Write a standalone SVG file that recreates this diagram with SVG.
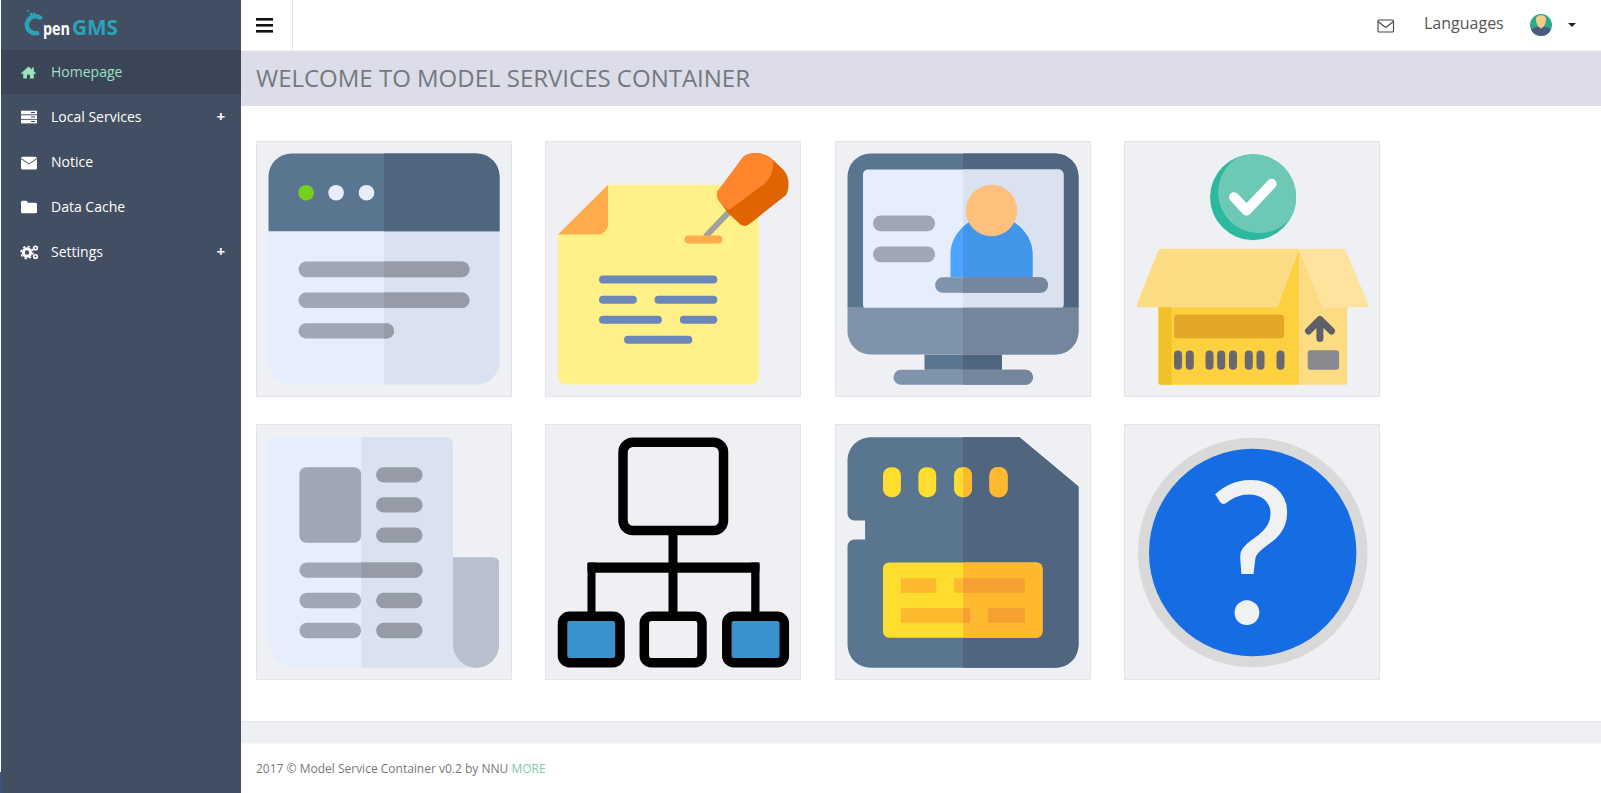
<svg xmlns="http://www.w3.org/2000/svg" xmlns:xlink="http://www.w3.org/1999/xlink" width="1601" height="793" viewBox="0 0 1601 793">
<style>
text{font-family:"Open Sans","Noto Sans","Liberation Sans",sans-serif}
.menu{font-size:14px;fill:#fff}
.active{fill:#9ce0bf}
.plus{font-size:15px;font-weight:700;fill:#fff}
.tile{fill:#eef0f4;stroke:#e2e4e9;stroke-width:1}
.slateL{fill:#5a7590}.slateR{fill:#50667f}
.paleL{fill:#e6eefc}.paleR{fill:#dae2f0}
.barL{fill:#a0a6b3}.barR{fill:#979ba7}
.monL{fill:#7f93ab}.monR{fill:#74859c}
.yelL{fill:#ffdd2e}.yelR{fill:#ffb92e}
.ambL{fill:#ffb92e}.ambR{fill:#f5a030}
.note{fill:#6a87b8}
.blk{fill:#000}
</style>
<defs>
<clipPath id="r"><rect x="127.6" y="0" width="128" height="255"/></clipPath>
<clipPath id="circ4"><circle cx="128.6" cy="55.7" r="43"/></clipPath>
<g id="i1head"><path d="M12 89.7V35a23 23 0 0 1 23-23H220a23 23 0 0 1 23 23V89.7Z"/></g>
<g id="i1body"><path d="M12 89.7H243V220a23 23 0 0 1-23 23H35a23 23 0 0 1-23-23Z"/></g>
<g id="i1bars"><rect x="42" y="120" width="171" height="15.7" rx="7.8"/><rect x="42" y="151" width="171" height="15.5" rx="7.7"/><rect x="42" y="181.7" width="95.500" height="15.400" rx="7.700"/></g>
<g id="i3frame"><path d="M12 166.300V35a23 23 0 0 1 23-23H220a23 23 0 0 1 23 23V166.300Z"/><rect x="89" y="213" width="77.400" height="15.300"/></g>
<g id="i3screen"><rect x="27.500" y="28" width="200.500" height="140" rx="5"/></g>
<g id="i3mon"><path d="M12 166.300H243V190a23 23 0 0 1-23 23H35a23 23 0 0 1-23-23Z"/><rect x="99.600" y="135.700" width="112.900" height="15.600" rx="7.800"/><rect x="58" y="228.300" width="139.500" height="15" rx="7.500"/></g>
<g id="i3body"><path d="M115 135.700V112C115 97 126 84 137 79H175C186 84 197 97 197 112V135.700Z"/></g>
<g id="i5page"><path d="M12 12.700H190a6.400 6.400 0 0 1 6.400 6.400V200c0 24 12 43.300 23 43.300H40a28 28 0 0 1-28-28Z"/></g>
<g id="i5long"><rect x="42.900" y="138" width="123.100" height="15.300" rx="7.600"/></g>
<g id="i7card"><path d="M35 12.700H184L243 62V220a23 23 0 0 1-23 23.300H35a23 23 0 0 1-23-23.300V122a7 7 0 0 1 7-7H29.600V96H19a7 7 0 0 1-7-7V35a23 23 0 0 1 23-22.300Z"/></g>
<g id="i7yel"><rect x="47.500" y="42.700" width="17.900" height="30" rx="8"/><rect x="82.900" y="42.700" width="17.800" height="30" rx="8"/><rect x="118.600" y="42.700" width="17.800" height="30" rx="8"/><rect x="154" y="42.700" width="18" height="30" rx="8"/><rect x="47.500" y="138" width="159.500" height="75.300" rx="6"/></g>
<g id="i7amb"><rect x="65.400" y="153.700" width="35.300" height="14.600"/><rect x="118.600" y="153.700" width="70.700" height="14.600"/><rect x="65.400" y="183.700" width="69.200" height="14.600"/><rect x="152.500" y="183.700" width="36.800" height="14.600"/></g>
</defs>

<rect width="1601" height="793" fill="#fff"/>
<g id="connectors"/>

<g id="sidebar">
<rect x="0" y="772" width="1" height="21" fill="#2f5a8f"/>
<rect x="1" y="0" width="240" height="793" fill="#424f62"/>
<rect x="1" y="50" width="240" height="44" fill="#3a4558"/>
</g>

<g id="logo">
<path d="M41.500 19A8.500 8.500 0 1 0 39 32.500" fill="none" stroke="#2aa3b8" stroke-width="4.500"/>
<g fill="#2aa3b8"><circle cx="28" cy="11" r="1"/><circle cx="31" cy="14" r="1.300"/><circle cx="34" cy="14" r="1.500"/><circle cx="32" cy="17" r="1"/></g>
<text x="43" y="35" font-size="17" font-weight="700" fill="#fff" textLength="27" lengthAdjust="spacingAndGlyphs">pen</text>
<text x="72" y="35" font-size="21" font-weight="700" fill="#2aa3b8" textLength="46" lengthAdjust="spacingAndGlyphs">GMS</text>
</g>

<g id="nav-homepage">
<path d="M28.500 66.500 21 73.200l1 1 1.200-1V78.500h3.800v-3.800h3v3.800h3.800v-5.300l1.200 1 1-1-2.200-2V67.500h-2v1.900Z" class="active"/>
<text x="51" y="77" class="menu active">Homepage</text>
</g>
<g id="nav-local-services">
<g fill="#fff"><rect x="21" y="110.700" width="16" height="3.600"/><rect x="21" y="115.300" width="16" height="3.600"/><rect x="21" y="119.800" width="16" height="3.600"/></g>
<g fill="#424f62"><rect x="31" y="112" width="4" height="1"/><rect x="31" y="116.500" width="4" height="1"/><rect x="31" y="121" width="4" height="1"/></g>
<text x="51" y="122" class="menu">Local Services</text>
<text x="216.500" y="122" class="plus">+</text>
</g>
<g id="nav-notice">
<rect x="21" y="156.700" width="16" height="12.800" rx="1.500" fill="#fff"/>
<path d="M21 158.500 29 164 37 158.500" fill="none" stroke="#424f62" stroke-width="1"/>
<text x="51" y="167" class="menu">Notice</text>
</g>
<g id="nav-data-cache">
<path d="M21 202.200a1.500 1.500 0 0 1 1.500-1.500h4l1.500 2h7.500a1.500 1.500 0 0 1 1.500 1.500v7.600a1.500 1.500 0 0 1-1.500 1.500h-13a1.500 1.500 0 0 1-1.500-1.500Z" fill="#fff"/>
<text x="51" y="212" class="menu">Data Cache</text>
</g>
<g id="nav-settings">
<g fill="none" stroke="#fff"><circle cx="27" cy="252.500" r="3.700" stroke-width="3"/><circle cx="27" cy="252.500" r="6" stroke-width="1.500" stroke-dasharray="2.300 2.400"/><circle cx="35.500" cy="248" r="1.800" stroke-width="1.600"/><circle cx="35.500" cy="256.500" r="1.800" stroke-width="1.600"/></g>
<text x="51" y="257" class="menu">Settings</text>
<text x="216.500" y="257" class="plus">+</text>
</g>

<g id="topbar">
<rect x="241" y="50.500" width="1360" height="1" fill="#eee"/>
<rect x="292" y="0" width="1" height="50" fill="#e7e7e7"/>
<g fill="#111"><rect x="256" y="18" width="17" height="2.600"/><rect x="256" y="24" width="17" height="2.600"/><rect x="256" y="30" width="17" height="2.600"/></g>
<g fill="none" stroke="#444" stroke-width="1.100"><rect x="1378" y="20" width="15.500" height="12" rx="1"/><path d="M1378 21.500 1385.700 27.500 1393.500 21.500"/></g>
<text x="1424" y="29" font-size="16" fill="#555">Languages</text>
<circle cx="1541" cy="25" r="11" fill="#2fa98c"/>
<path d="M1531 29.500c2-2 6-3 10-3s8 1 10 3a11 11 0 0 1-20 0Z" fill="#4a5a80"/>
<path d="M1536 19c0-5 10-5 10 0 0 5-2 8-5 9.500-3-1.500-5-4.500-5-9.500Z" fill="#f5c98a"/>
<path d="M1568 23h8l-4 4Z" fill="#222"/>
</g>

<g id="title-band">
<rect x="241" y="51" width="1360" height="55" fill="#dcdde9"/>
<text x="256" y="87" font-size="24" fill="#75787e" textLength="494" lengthAdjust="spacingAndGlyphs">WELCOME TO MODEL SERVICES CONTAINER</text>
</g>

<g id="tile-window" transform="translate(256.500 141.500)">
<rect class="tile" width="255" height="255"/>
<use href="#i1body" class="paleL"/><use href="#i1body" class="paleR" clip-path="url(#r)"/>
<use href="#i1head" class="slateL"/><use href="#i1head" class="slateR" clip-path="url(#r)"/>
<circle cx="49.600" cy="51.300" r="7.800" fill="#76d01e"/><circle cx="79.600" cy="51.300" r="7.800" fill="#e6eefc"/><circle cx="110" cy="51.300" r="7.800" fill="#e6eefc"/>
<use href="#i1bars" class="barL"/><use href="#i1bars" class="barR" clip-path="url(#r)"/>
</g>

<g id="tile-note" transform="translate(545.500 141.500)">
<rect class="tile" width="255" height="255"/>
<path d="M62.500 43.300H208a5 5 0 0 1 5 5V235a8 8 0 0 1-8 8H20.500a8 8 0 0 1-8-8V93Z" fill="#fff188"/>
<path d="M62.500 43.300V83a10 10 0 0 1-10 10H12.500Z" fill="#ffac4d"/>
<path d="M160 95 184 70" stroke="#a0a0a0" stroke-width="6" fill="none"/>
<rect x="139" y="94" width="37.800" height="8" rx="4" fill="#ffac4d"/>
<path d="M226 17 238.600 29C242 33 243 38 243 42 243 48 242 52 240 54L204.600 82C201 85 198 85 195 83L183 72 174 60C171 56 171 52 172 50L197.500 15.700C204 10 217 10 226 17Z" fill="#e06500"/>
<path d="M226 17C229 22 228 34 219 42L183 69 174 60C171 56 171 52 172 50L197.500 15.700C204 10 217 10 226 17Z" fill="#ff862d"/>
<g class="note"><rect x="53.500" y="134" width="118.300" height="8" rx="4"/><rect x="53.500" y="154.300" width="37.900" height="8" rx="4"/><rect x="109" y="154.300" width="62.800" height="8" rx="4"/><rect x="53.500" y="174.300" width="62.900" height="8" rx="4"/><rect x="134.300" y="174.300" width="37.500" height="8" rx="4"/><rect x="78.500" y="194.300" width="68.300" height="8" rx="4"/></g>
</g>

<g id="tile-monitor" transform="translate(835.500 141.500)">
<rect class="tile" width="255" height="255"/>
<use href="#i3frame" class="slateL"/><use href="#i3frame" class="slateR" clip-path="url(#r)"/>
<use href="#i3screen" class="paleL"/><use href="#i3screen" class="paleR" clip-path="url(#r)"/>
<rect x="37.500" y="74" width="62.100" height="15.700" rx="7.800" class="barL"/><rect x="37.500" y="105" width="62.100" height="15.700" rx="7.800" class="barL"/>
<use href="#i3body" fill="#4ba4ff"/><use href="#i3body" fill="#4296ea" clip-path="url(#r)"/>
<circle cx="156" cy="69" r="25.700" fill="#ffc07d"/>
<use href="#i3mon" class="monL"/><use href="#i3mon" class="monR" clip-path="url(#r)"/>
</g>

<g id="tile-box" transform="translate(1124.500 141.500)">
<rect class="tile" width="255" height="255"/>
<circle cx="128.600" cy="55.700" r="43" fill="#2db8a0"/>
<circle cx="134.600" cy="50.700" r="41" fill="#6dc9b6" clip-path="url(#circ4)"/>
<path d="M109.600 55.700 122 69 147.100 42.300" fill="none" stroke="#fff" stroke-width="10" stroke-linecap="round" stroke-linejoin="round"/>
<path d="M34 165H174.600V243.300H36a2 2 0 0 1-2-2Z" fill="#fdd03f"/>
<path d="M34 165H47V243.300H36a2 2 0 0 1-2-2Z" fill="#f2c027"/>
<path d="M174.600 107.300 198 165.700H222.900V241a2 2 0 0 1-2 2.300H174.600Z" fill="#fddb82"/>
<path d="M174.600 107.300 152.500 165.700H174.600Z" fill="#fdd03f"/>
<path d="M37 107.300H174.600L152.500 165.700H15C12.500 165.700 12 164 12.700 162L33.500 110C34.300 108 35.500 107.300 37 107.300Z" fill="#fddb82"/>
<path d="M174.600 107.300H218C219.500 107.300 220.700 108 221.500 110L243.500 162C244.300 164 243.500 165.700 241 165.700H198Z" fill="#fee39f"/>
<rect x="49.600" y="173.300" width="110" height="23.400" rx="3" fill="#e3a626"/>
<g fill="#68686e"><rect x="49.500" y="209" width="8" height="19.300" rx="4"/><rect x="61.300" y="209" width="8" height="19.300" rx="4"/><rect x="81" y="209" width="8" height="19.300" rx="4"/><rect x="92.700" y="209" width="8" height="19.300" rx="4"/><rect x="104.500" y="209" width="8" height="19.300" rx="4"/><rect x="120.300" y="209" width="8" height="19.300" rx="4"/><rect x="132" y="209" width="8" height="19.300" rx="4"/><rect x="152" y="209" width="8" height="19.300" rx="4"/></g>
<rect x="183.200" y="208.700" width="31.400" height="19.600" rx="3" fill="#88888e"/>
<path d="M195.400 197V179M184 189.500 195.400 178 207 189.500" fill="none" stroke="#5f5f68" stroke-width="7" stroke-linecap="round" stroke-linejoin="round"/>
</g>

<g id="tile-news" transform="translate(256.500 424.500)">
<rect class="tile" width="255" height="255"/>
<path d="M196.400 133H237a5.500 5.500 0 0 1 5.500 5.500V220.300a23 23 0 0 1-46 0Z" fill="#b8c0ce"/>
<use href="#i5page" class="paleL"/>
<path d="M104.600 12.700H190a6.400 6.400 0 0 1 6.400 6.400V220.300c0 10 8 23 23 23H104.600Z" class="paleR"/>
<path d="M196.400 133H237a5.500 5.500 0 0 1 5.500 5.500V220.300a23 23 0 0 1-46 0Z" fill="#b8c0ce"/>
<rect x="42.900" y="42.700" width="61.700" height="75.600" rx="7" class="barL"/>
<g class="barR"><rect x="119.600" y="42.700" width="46.400" height="15.300" rx="7.600"/><rect x="119.600" y="72.700" width="46.400" height="15.300" rx="7.600"/><rect x="119.600" y="103" width="46.400" height="15.300" rx="7.600"/><rect x="119.600" y="168.300" width="46.400" height="15.400" rx="7.600"/><rect x="119.600" y="198.300" width="46.400" height="15.400" rx="7.600"/></g>
<g class="barL"><rect x="42.900" y="168.300" width="61.700" height="15.400" rx="7.600"/><rect x="42.900" y="198.300" width="61.700" height="15.400" rx="7.600"/></g>
<use href="#i5long" class="barL"/>
<path d="M104.600 138H158.400a7.600 7.600 0 0 1 0 15.300H104.600Z" class="barR"/>
</g>

<g id="tile-hierarchy" transform="translate(545.500 424.500)">
<rect class="tile" width="255" height="255"/>
<rect x="77.500" y="17.700" width="100.500" height="88.300" rx="10" fill="none" stroke="#000" stroke-width="9.500"/>
<g class="blk"><rect x="123" y="110" width="9" height="78"/><rect x="42" y="138" width="172" height="10.300" rx="2"/><rect x="42" y="138" width="8" height="50"/><rect x="205.700" y="138" width="8.300" height="50"/></g>
<rect x="17" y="191.800" width="57.500" height="46.400" rx="7" fill="#3a92cc" stroke="#000" stroke-width="9.500"/>
<rect x="98.800" y="191.800" width="57.700" height="46.400" rx="7" fill="#eef0f4" stroke="#000" stroke-width="9.500"/>
<rect x="181.300" y="191.800" width="57.500" height="46.400" rx="7" fill="#3a92cc" stroke="#000" stroke-width="9.500"/>
</g>

<g id="tile-sdcard" transform="translate(835.500 424.500)">
<rect class="tile" width="255" height="255"/>
<use href="#i7card" class="slateL"/><use href="#i7card" class="slateR" clip-path="url(#r)"/>
<use href="#i7yel" class="yelL"/><use href="#i7yel" class="yelR" clip-path="url(#r)"/>
<use href="#i7amb" class="ambL"/><use href="#i7amb" class="ambR" clip-path="url(#r)"/>
</g>

<g id="tile-help" transform="translate(1124.500 424.500)">
<rect class="tile" width="255" height="255"/>
<circle cx="128.200" cy="128" r="114.800" fill="#d9d9d9"/>
<circle cx="128.200" cy="128" r="103.700" fill="#166ce3"/>
<text x="127" y="199" font-size="198" fill="#f0f1f3" text-anchor="middle" style="font-family:Lato,'Open Sans',sans-serif">?</text>
</g>

<g id="footer">
<path d="M241 721.500H1601" stroke="#e2e4ea" stroke-width="1"/>
<rect x="241" y="722" width="1360" height="21.500" fill="#eef0f4"/>
<text x="256" y="773" font-size="12" fill="#777">2017 © Model Service Container v0.2 by NNU <tspan fill="#7fc9a8">MORE</tspan></text>
</g>
</svg>
